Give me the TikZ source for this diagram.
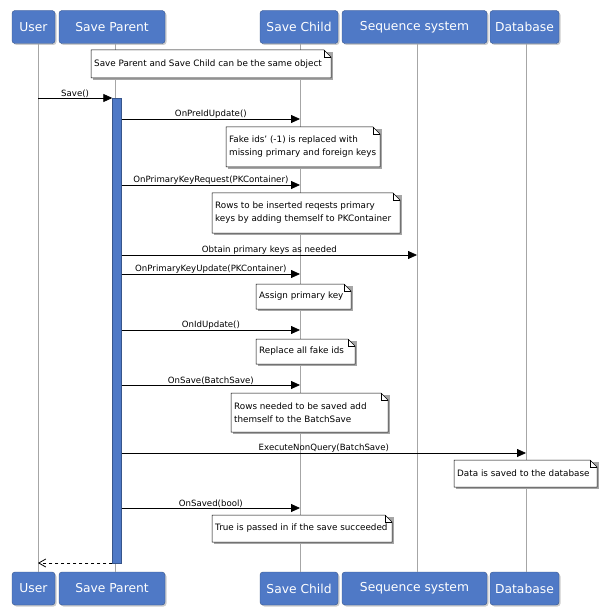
\documentclass[tikz,border=0pt]{standalone}
\usepackage{fontspec}
\setmainfont{DejaVu Sans}
\usetikzlibrary{shadows,arrows.meta}
\definecolor{headblue}{HTML}{4F79C6}
\tikzset{
  head/.style={draw=headblue!70!black,fill=headblue,rounded corners=3pt,text=white,font=\fontsize{12.3}{14}\selectfont,
    minimum height=33pt,inner sep=0pt,drop shadow={shadow xshift=1.5pt,shadow yshift=-1.5pt,opacity=0.4}},
  life/.style={draw=gray!70,line width=0.8pt},
  msg/.style={-{Triangle[length=9pt,width=8pt]},line width=0.8pt},
  lbl/.style={font=\fontsize{8.6}{10}\selectfont,above=-1pt,inner sep=1pt},
  ntxt/.style={font=\fontsize{8.8}{13}\selectfont,align=left,inner sep=3pt,anchor=west}
}
% note with folded corner
\newcommand{\notebox}[6]{%
  \fill[black!35] (#2+2,#3+2) rectangle (#4+2,#5+2);
  \draw[fill=white,line width=0.5pt] (#2,#3) -- (#4-7,#3) -- (#4,#3+7) -- (#4,#5) -- (#2,#5) -- cycle;
  \draw[line width=0.5pt] (#4-7,#3) -- (#4-7,#3+7) -- (#4,#3+7);
  \node[ntxt] (#1) at (#2,{(#3+#5)/2}) {#6};}
\begin{document}
\begin{tikzpicture}[x=1pt,y=-1pt]
\useasboundingbox (0,0) rectangle (608,612);
% heads
\foreach \n/\x/\w/\t in {u/33.5/43/User,p/112/106/Save Parent,c/299/78/Save Child,s/414.5/145/Sequence system,d/524.5/69/Database}{
  \node[head,minimum width=\w pt] (\n top) at (\x,27) {\t};
  \node[head,minimum width=\w pt] (\n bot) at (\x,588.5) {\t};
}
\coordinate (ul) at (38,0); \coordinate (pl) at (115,0); \coordinate (cl) at (300,0);
\coordinate (sl) at (417,0); \coordinate (dl) at (526,0);
\foreach \n in {u,p,c,s,d}{ \draw[life] (\n l |- \n top.south) -- (\n l |- \n bot.north); }
% activation
\node[fill=headblue,draw=headblue!70!black,minimum width=9pt,minimum height=465pt,inner sep=0pt,anchor=north] (bar) at (117,98) {};
% notes
\notebox{n1}{91}{50}{331}{78}{Save Parent and Save Child can be the same object}
\notebox{n2}{226}{127}{380}{167}{Fake ids' (-1) is replaced with\\missing primary and foreign keys}
\notebox{n3}{212}{193}{400}{233}{Rows to be inserted reqests primary\\keys by adding themself to PKContainer}
\notebox{n4}{256}{284}{351}{309}{Assign primary key}
\notebox{n5}{256}{339}{355}{364}{Replace all fake ids}
\notebox{n6}{231}{393}{388}{432}{Rows needed to be saved add\\themself to the BatchSave}
\notebox{n7}{454}{460}{597}{487}{Data is saved to the database}
\notebox{n8}{212}{515}{392}{542}{True is passed in if the save succeeded}
% messages
\draw[msg] (ul |- 0,98) -- node[lbl] {Save()} (bar.west |- 0,98);
\draw[msg] (bar.east |- 0,119) -- node[lbl] {OnPreIdUpdate()} (cl |- 0,119);
\draw[msg] (bar.east |- 0,185) -- node[lbl] {OnPrimaryKeyRequest(PKContainer)} (cl |- 0,185);
\draw[msg] (bar.east |- 0,255) -- node[lbl] {Obtain primary keys as needed} (sl |- 0,255);
\draw[msg] (bar.east |- 0,274) -- node[lbl] {OnPrimaryKeyUpdate(PKContainer)} (cl |- 0,274);
\draw[msg] (bar.east |- 0,330) -- node[lbl] {OnIdUpdate()} (cl |- 0,330);
\draw[msg] (bar.east |- 0,385) -- node[lbl] {OnSave(BatchSave)} (cl |- 0,385);
\draw[msg] (bar.east |- 0,453) -- node[lbl] {ExecuteNonQuery(BatchSave)} (dl |- 0,453);
\draw[msg] (bar.east |- 0,508) -- node[lbl] {OnSaved(bool)} (cl |- 0,508);
\draw[-{Straight Barb[length=7pt,width=8pt]},dashed,line width=0.8pt] (bar.west |- 0,563) -- (ul |- 0,563);
\end{tikzpicture}
\end{document}
